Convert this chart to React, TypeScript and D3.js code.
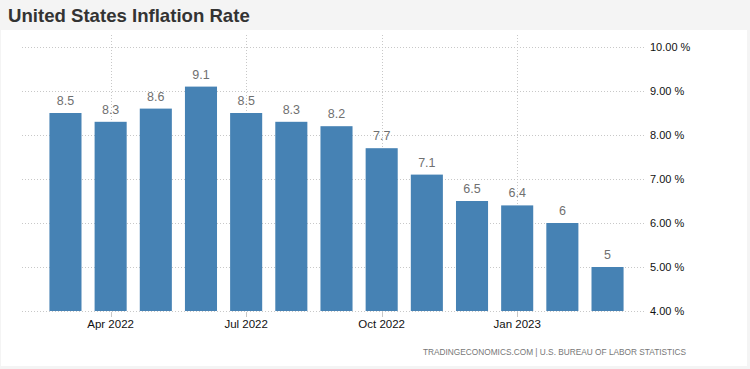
import { useRef, useEffect } from 'react';
import * as d3 from 'd3';

const months = ['2022-03', '2022-04', '2022-05', '2022-06', '2022-07', '2022-08', '2022-09', '2022-10', '2022-11', '2022-12', '2023-01', '2023-02', '2023-03'];
const rates = [8.5, 8.3, 8.6, 9.1, 8.5, 8.3, 8.2, 7.7, 7.1, 6.5, 6.4, 6, 5];
const yTicks = [4, 5, 6, 7, 8, 9, 10];
const xTickMonths = ['2022-04', '2022-07', '2022-10', '2023-01'];
const xTickLabels = ['Apr 2022', 'Jul 2022', 'Oct 2022', 'Jan 2023'];

const W = 750;
const H = 369;

const App: React.FC = () => {
    const svgRef = useRef<SVGSVGElement>(null);

    useEffect(() => {
        if (!svgRef.current) return;
        const svg = d3.select(svgRef.current);
        svg.selectAll('*').remove();

        // frame
        svg.append('rect').attr('width', W).attr('height', H).attr('fill', '#f4f4f4');
        svg.append('rect').attr('x', 1).attr('y', 30).attr('width', 746).attr('height', 336).attr('fill', '#fff');
        svg.append('text')
            .attr('x', 8).attr('y', 22)
            .attr('font-family', 'Liberation Sans, Arial, sans-serif')
            .attr('font-size', 18.6).attr('font-weight', 'bold')
            .attr('fill', '#333')
            .text('United States Inflation Rate');

        const x = d3.scaleBand<string>()
            .domain(months)
            .range([23.5, 649.5])
            .paddingInner(0.29)
            .paddingOuter(0.574);

        const y = d3.scaleLinear().domain([4, 10]).range([311, 47]);

        const grid = svg.append('g');
        grid.selectAll('.hgrid')
            .data(yTicks)
            .join('line')
            .attr('x1', 22).attr('x2', 645)
            .attr('y1', d => y(d) + 0.5).attr('y2', d => y(d) + 0.5)
            .attr('stroke', '#c8c8c8').attr('stroke-dasharray', '1,2');

        grid.selectAll('.vgrid')
            .data(xTickMonths)
            .join('line')
            .attr('x1', d => Math.round(x(d)! + x.bandwidth() / 2) + 0.5)
            .attr('x2', d => Math.round(x(d)! + x.bandwidth() / 2) + 0.5)
            .attr('y1', 35).attr('y2', 311)
            .attr('stroke', '#c8c8c8').attr('stroke-dasharray', '1,2');

        // small tick marks under the baseline
        grid.selectAll('.tick')
            .data(xTickMonths)
            .join('line')
            .attr('x1', d => Math.round(x(d)! + x.bandwidth() / 2) + 0.5)
            .attr('x2', d => Math.round(x(d)! + x.bandwidth() / 2) + 0.5)
            .attr('y1', 312).attr('y2', 317)
            .attr('stroke', '#c8c8c8');

        svg.append('g').selectAll('rect')
            .data(rates)
            .join('rect')
            .attr('x', (_, i) => x(months[i])!)
            .attr('y', d => y(d))
            .attr('width', x.bandwidth())
            .attr('height', d => y(4) - y(d))
            .attr('fill', '#4682b4');

        svg.append('g').selectAll('text')
            .data(rates)
            .join('text')
            .attr('x', (_, i) => x(months[i])! + x.bandwidth() / 2)
            .attr('y', d => y(d) - 8)
            .attr('text-anchor', 'middle')
            .attr('font-family', 'Liberation Sans, Arial, sans-serif')
            .attr('font-size', 12.5)
            .attr('fill', '#707070')
            .text(d => String(d));

        svg.append('g').selectAll('text')
            .data(yTicks)
            .join('text')
            .attr('x', 650)
            .attr('y', d => y(d) + 4)
            .attr('font-family', 'Liberation Sans, Arial, sans-serif')
            .attr('font-size', 11)
            .attr('fill', '#111')
            .text(d => d3.format('.2f')(d) + ' %');

        svg.append('g').selectAll('text')
            .data(xTickMonths)
            .join('text')
            .attr('x', d => x(d)! + x.bandwidth() / 2)
            .attr('y', 328)
            .attr('text-anchor', 'middle')
            .attr('font-family', 'Liberation Sans, Arial, sans-serif')
            .attr('font-size', 11.5)
            .attr('fill', '#111')
            .text((_, i) => xTickLabels[i]);

        svg.append('text')
            .attr('x', 423).attr('y', 355)
            .attr('font-family', 'Liberation Sans, Arial, sans-serif')
            .attr('font-size', 9)
            .attr('textLength', 263)
            .attr('lengthAdjust', 'spacingAndGlyphs')
            .attr('fill', '#777')
            .text('TRADINGECONOMICS.COM  |  U.S. BUREAU OF LABOR STATISTICS');
    }, []);

    return (
        <div style={{ position: 'absolute', left: 0, top: 0 }}>
            <svg ref={svgRef} width={W} height={H} style={{ display: 'block' }}></svg>
        </div>
    );
};

export default App;
